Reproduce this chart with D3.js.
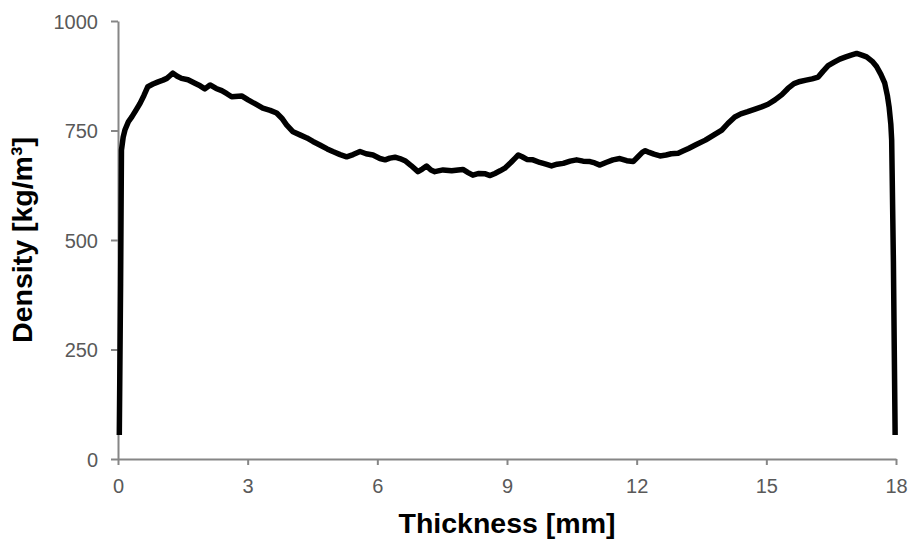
<!DOCTYPE html>
<html>
<head>
<meta charset="utf-8">
<script src="https://cdn.jsdelivr.net/npm/d3@7"></script>
<style>
  body { margin: 0; background: #fff; }
  .tick text { font-family: "Liberation Sans", Arial, sans-serif; font-size: 20px; fill: #595959; }
  .axis-label { font-family: "Liberation Sans", Arial, sans-serif; font-size: 28.5px; font-weight: bold; fill: #000; }
</style>
</head>
<body>
<svg id="chart"></svg>
<script>
// density profile
const thickness = [
  0.03, 0.06, 0.08, 0.12, 0.16, 0.24, 0.32, 0.42, 0.51, 0.60, 0.69, 0.81, 0.93, 1.04, 1.13, 1.20, 1.27,
  1.37, 1.47, 1.62, 1.78, 1.90, 2.01, 2.13, 2.27, 2.40, 2.52, 2.63, 2.86, 3.01, 3.19, 3.35, 3.52, 3.67,
  3.79, 3.90, 4.05, 4.21, 4.37, 4.51, 4.67, 4.84, 4.97, 5.14, 5.29, 5.44, 5.60, 5.74, 5.90, 6.06, 6.18,
  6.29, 6.41, 6.52, 6.64, 6.78, 6.94, 7.04, 7.14, 7.24, 7.33, 7.52, 7.72, 7.87, 7.98, 8.10, 8.21, 8.35,
  8.50, 8.61, 8.72, 8.84, 8.95, 9.09, 9.19, 9.26, 9.35, 9.46, 9.60, 9.76, 9.90, 10.03, 10.16, 10.30,
  10.46, 10.61, 10.76, 10.92, 11.03, 11.15, 11.29, 11.45, 11.61, 11.77, 11.92, 12.03, 12.13, 12.20,
  12.29, 12.40, 12.54, 12.68, 12.80, 12.96, 13.07, 13.20, 13.38, 13.59, 13.77, 13.97, 14.11, 14.27,
  14.41, 14.57, 14.74, 14.89, 15.04, 15.20, 15.36, 15.50, 15.64, 15.78, 15.92, 16.06, 16.20, 16.31,
  16.43, 16.57, 16.70, 16.84, 16.96, 17.09, 17.21, 17.32, 17.45, 17.55, 17.65, 17.74, 17.80, 17.84,
  17.88, 17.90, 17.91, 17.94, 17.96, 17.98
];
const density = [
  55, 400, 705, 735, 751, 770, 781, 797, 812, 830, 850, 856, 861, 865, 869, 875, 881,
  874, 869, 866, 858, 852, 845, 854, 846, 841, 834, 827, 829, 820, 810, 801, 796, 790,
  778, 763, 747, 740, 733, 725, 717, 708, 702, 695, 690, 695, 702, 697, 694, 686, 683,
  687, 689, 686, 681, 670, 656, 662, 669, 660, 656, 660, 658, 660, 661, 654, 648, 652,
  651, 647, 652, 658, 664, 677, 687, 694, 690, 684, 683, 677, 673, 669, 673, 675,
  680, 683, 680, 679, 676, 671, 677, 683, 686, 681, 679, 690, 700, 704,
  700, 696, 692, 694, 697, 698, 703, 709, 718, 728, 739, 751, 766, 781,
  788, 793, 799, 804, 810, 820, 832, 846, 857, 862, 865, 868, 872, 885,
  898, 906, 913, 918, 922, 926, 922, 918, 908, 896, 878, 858, 830, 804,
  765, 728, 660, 450, 250, 55
];
const xTicks = [0, 3, 6, 9, 12, 15, 18];
const yTicks = [0, 250, 500, 750, 1000];

const totalWidth = 911, totalHeight = 540;
const margin = { top: 21, right: 15, bottom: 81, left: 118 };
const width = totalWidth - margin.left - margin.right,
    height = totalHeight - margin.top - margin.bottom;

const svg = d3.select("#chart")
    .attr("width", totalWidth)
    .attr("height", totalHeight);

const g = svg.append("g")
    .attr("transform", "translate(" + margin.left + "," + margin.top + ")");

const x = d3.scaleLinear().domain([0, 18]).range([0, 778]),
    y = d3.scaleLinear().domain([0, 1000]).range([height, 0]);

const axisColor = "#868686";

// x axis
const gx = g.append("g")
    .attr("transform", "translate(0," + height + ")")
    .call(d3.axisBottom(x).tickValues(xTicks).tickSize(6).tickPadding(14).tickSizeOuter(0));

// y axis
const gy = g.append("g")
    .call(d3.axisLeft(y).tickValues(yTicks).tickFormat(d3.format("d"))
        .tickSize(7).tickPadding(13).tickSizeOuter(0));

[gx, gy].forEach(a => {
    a.select(".domain").attr("stroke", axisColor).attr("stroke-width", 2);
    a.selectAll(".tick line").attr("stroke", axisColor).attr("stroke-width", 2);
    a.selectAll(".tick text").attr("font-family", null).attr("font-size", null);
});
gy.selectAll(".tick text").attr("dy", "0.36em");

// axis titles
g.append("text")
    .attr("class", "axis-label")
    .attr("x", 389)
    .attr("y", height + 74)
    .style("text-anchor", "middle")
    .text("Thickness [mm]");

g.append("text")
    .attr("class", "axis-label")
    .attr("transform", "rotate(-90)")
    .attr("x", -height / 2)
    .attr("y", -86)
    .style("text-anchor", "middle")
    .text("Density [kg/m³]");

// profile line
const points = thickness.map((t, i) => ({ t: t, d: density[i] }));
const line = d3.line()
    .x(d => x(d.t))
    .y(d => y(d.d));

g.append("path")
    .datum(points)
    .attr("d", line)
    .attr("fill", "none")
    .attr("stroke", "#000")
    .attr("stroke-width", 5.5)
    .attr("stroke-linejoin", "round")
    .attr("stroke-linecap", "butt");
</script>
</body>
</html>
